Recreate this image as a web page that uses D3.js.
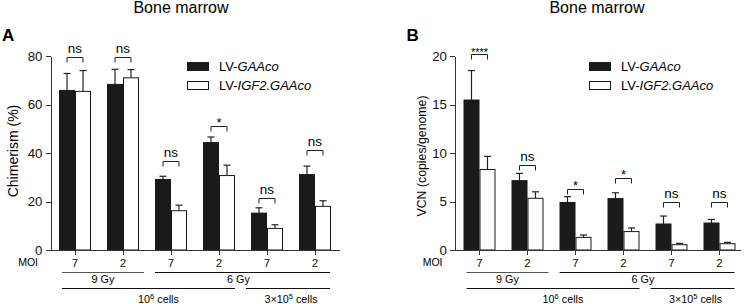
<!DOCTYPE html>
<html>
<head>
<meta charset="utf-8">
<style>
  body { margin: 0; background: #fff; }
  svg { font-family: "Liberation Sans", Arial, sans-serif; }
  .axis path, .axis line { stroke: #333; shape-rendering: crispEdges; }
  .axis text { fill: #111; }
</style>
<script src="https://cdn.jsdelivr.net/npm/d3@7"></script>
</head>
<body>
<svg id="chart" width="746" height="304"></svg>
<script>
// ---- data ----
var moi = ["7", "2", "7", "2", "7", "2"];
var seriesNames = ["LV-GAAco", "LV-IGF2.GAAco"];

// panel A : chimerism (%)
var chimGAA      = [65.8, 68.3, 29.1, 44.3, 15.2, 31.1];
var chimGAAErr   = [7.0, 6.2, 1.3, 2.3, 2.2, 3.5];
var chimIGF2     = [65.4, 71.0, 16.2, 30.7, 8.9, 18.0];
var chimIGF2Err  = [8.6, 3.4, 2.3, 4.3, 1.5, 2.3];
var chimSig      = ["ns", "ns", "ns", "*", "ns", "ns"];
var chimBracket  = [79.6, 79.6, 36.7, 51.3, 21.4, 41.2];
var chimTicks    = [0, 20, 40, 60, 80];

// panel B : VCN (copies/genome)
var vcnGAA       = [15.46, 7.15, 4.9, 5.3, 2.68, 2.78];
var vcnGAAErr    = [3.04, 0.75, 0.6, 0.6, 0.82, 0.37];
var vcnIGF2      = [8.3, 5.33, 1.3, 1.9, 0.55, 0.65];
var vcnIGF2Err   = [1.35, 0.67, 0.25, 0.37, 0.14, 0.14];
var vcnSig       = ["****", "ns", "*", "*", "ns", "ns"];
var vcnBracket   = [20.2, 8.76, 6.29, 7.42, 4.98, 4.98];
var vcnTicks     = [0, 5, 10, 15, 20];

var svg = d3.select("#chart");

var panels = [
  { letter: "A", x0: 50, axisLen: 290, title: "Bone marrow", ylabel: "Chimerism (%)",
    ylabelSize: 14, ylabelX: 32, ylabelY: 151,
    max: 80, ticks: chimTicks, a: chimGAA, aErr: chimGAAErr, b: chimIGF2, bErr: chimIGF2Err,
    sig: chimSig, bracket: chimBracket, legendX: 187, titleX: 181 },
  { letter: "B", x0: 454.5, axisLen: 286, title: "Bone marrow", ylabel: "VCN (copies/genome)",
    ylabelSize: 12.3, ylabelX: 28.5, ylabelY: 156,
    max: 20, ticks: vcnTicks, a: vcnGAA, aErr: vcnGAAErr, b: vcnIGF2, bErr: vcnIGF2Err,
    sig: vcnSig, bracket: vcnBracket, legendX: 589, titleX: 597 }
];

panels.forEach(function(p) {
  var g = svg.append("g");

  var y = d3.scaleLinear().domain([0, p.max]).range([250, 56]);
  var x = d3.scaleBand()
      .domain(d3.range(moi.length))
      .range([p.x0 + 9, p.x0 + 9 + 272])
      .paddingInner(1 / 3)
      .paddingOuter(0);
  var bw = x.bandwidth();
  var xs = d3.scaleBand().domain([0, 1]).range([0, bw]);

  // title and panel letter
  g.append("text").attr("x", p.titleX).attr("y", 13).attr("text-anchor", "middle")
    .style("font-size", "16px").text(p.title);
  g.append("text").attr("x", p.x0 - 48).attr("y", 41)
    .style("font-size", "17px").style("font-weight", "bold").text(p.letter);

  // y axis
  var yAxis = g.append("g").attr("class", "axis")
    .attr("transform", "translate(" + (p.x0 + 0.5) + ",0)")
    .call(d3.axisLeft(y).tickValues(p.ticks).tickSize(5).tickPadding(3).tickSizeOuter(0));
  yAxis.selectAll("text").style("font-size", "13.3px");

  g.append("text")
    .attr("transform", "translate(" + (p.x0 - p.ylabelX) + "," + p.ylabelY + ") rotate(-90)")
    .attr("text-anchor", "middle")
    .style("font-size", p.ylabelSize + "px")
    .text(p.ylabel);

  // bars
  var rows = moi.map(function(m, i) {
    return [
      { i: i, s: 0, v: p.a[i], e: p.aErr[i] },
      { i: i, s: 1, v: p.b[i], e: p.bErr[i] }
    ];
  });
  var bars = g.selectAll(".grp").data(rows).enter().append("g")
    .selectAll(".bar").data(function(d) { return d; }).enter();

  // error bars (upper only)
  bars.append("line")
    .attr("x1", function(d) { return x(d.i) + xs(d.s) + xs.bandwidth() / 2; })
    .attr("x2", function(d) { return x(d.i) + xs(d.s) + xs.bandwidth() / 2; })
    .attr("y1", function(d) { return y(d.v); })
    .attr("y2", function(d) { return y(d.v + d.e); })
    .attr("stroke", "#222").attr("stroke-width", 1.2);
  bars.append("line")
    .attr("x1", function(d) { return x(d.i) + xs(d.s) + xs.bandwidth() / 2 - 3.5; })
    .attr("x2", function(d) { return x(d.i) + xs(d.s) + xs.bandwidth() / 2 + 3.5; })
    .attr("y1", function(d) { return y(d.v + d.e); })
    .attr("y2", function(d) { return y(d.v + d.e); })
    .attr("stroke", "#222").attr("stroke-width", 1.2);

  bars.append("rect")
    .attr("x", function(d) { return x(d.i) + xs(d.s) + 0.5; })
    .attr("width", xs.bandwidth() - 1)
    .attr("y", function(d) { return y(d.v); })
    .attr("height", function(d) { return y(0) - y(d.v); })
    .attr("fill", function(d) { return d.s === 0 ? "#1a1a1a" : "#fff"; })
    .attr("stroke", "#1a1a1a").attr("stroke-width", 1);

  // x axis
  var xAxis = g.append("g").attr("class", "axis")
    .attr("transform", "translate(0,250.5)")
    .call(d3.axisBottom(x).tickSize(4).tickPadding(4).tickSizeOuter(0)
      .tickFormat(function(i) { return moi[i]; }));
  xAxis.select(".domain").attr("d", "M" + p.x0 + ",0H" + (p.x0 + p.axisLen));
  xAxis.selectAll("text").style("font-size", "11.5px");
  g.append("text").attr("x", p.x0 - 12).attr("y", 266).attr("text-anchor", "end")
    .style("font-size", "10.5px").text("MOI");

  // significance brackets
  moi.forEach(function(m, i) {
    var xa = x(i) + xs(0) + xs.bandwidth() / 2;
    var xb = x(i) + xs(1) + xs.bandwidth() / 2;
    var yb = Math.round(y(p.bracket[i])) + 0.5;
    g.append("path")
      .attr("d", "M" + xa + "," + (yb + 5) + "V" + yb + "H" + xb + "V" + (yb + 5))
      .attr("fill", "none").attr("stroke", "#222").attr("stroke-width", 1);
    var isStar = p.sig[i].indexOf("*") >= 0;
    g.append("text")
      .attr("x", (xa + xb) / 2)
      .attr("y", isStar ? yb + (p.sig[i].length > 1 ? 1 : 0) : yb - 4.5)
      .attr("text-anchor", "middle")
      .style("font-size", isStar ? (p.sig[i].length > 1 ? "11px" : "13px") : "13.5px")
      .text(p.sig[i]);
  });

  // legend
  seriesNames.forEach(function(name, k) {
    var ly = 62.5 + k * 19;
    g.append("rect").attr("x", p.legendX + 0.5).attr("y", ly)
      .attr("width", 21).attr("height", 8)
      .attr("fill", k === 0 ? "#1a1a1a" : "#fff").attr("stroke", "#1a1a1a");
    var t = g.append("text").attr("x", p.legendX + 32).attr("y", ly + 8.3)
      .style("font-size", "13px");
    t.append("tspan").text("LV-");
    t.append("tspan").style("font-style", "italic").text(name.slice(3));
  });

  // condition lines under the x axis
  var spans = [
    { from: 0, to: 1, l: 3, r: 5, y: 272, label: "9 Gy", lx: 0, col: "#555" },
    { from: 2, to: 5, l: 0, r: -1, y: 272, label: "6 Gy", lx: -4, col: "#111" },
    { from: 0, to: 3, l: 3, r: 0, y: 288, label: "cells6", lx: 10, col: "#111" },
    { from: 4, to: 5, l: -5, r: -1, y: 288, label: "cells35", lx: 3, col: "#111" }
  ];
  spans.forEach(function(s) {
    var x1 = x(s.from) + s.l, x2 = x(s.to) + bw + s.r;
    g.append("line").attr("x1", x1).attr("x2", x2)
      .attr("y1", s.y + 0.5).attr("y2", s.y + 0.5)
      .attr("stroke", s.col).attr("stroke-width", 1);
    var cx = (x1 + x2) / 2 + s.lx;
    var t = g.append("text").attr("x", cx).attr("y", s.y + 11)
      .attr("text-anchor", "middle").style("font-size", "10.8px");
    if (s.label === "cells6") {
      t.attr("y", s.y + 14.5);
      t.append("tspan").text("10");
      t.append("tspan").attr("dy", -4).style("font-size", "7.5px").text("6");
      t.append("tspan").attr("dy", 4).text(" cells");
    } else if (s.label === "cells35") {
      t.attr("y", s.y + 14.5);
      t.append("tspan").text("3\u00d710");
      t.append("tspan").attr("dy", -4).style("font-size", "7.5px").text("5");
      t.append("tspan").attr("dy", 4).text(" cells");
    } else {
      t.text(s.label);
    }
  });
});
</script>
</body>
</html>
